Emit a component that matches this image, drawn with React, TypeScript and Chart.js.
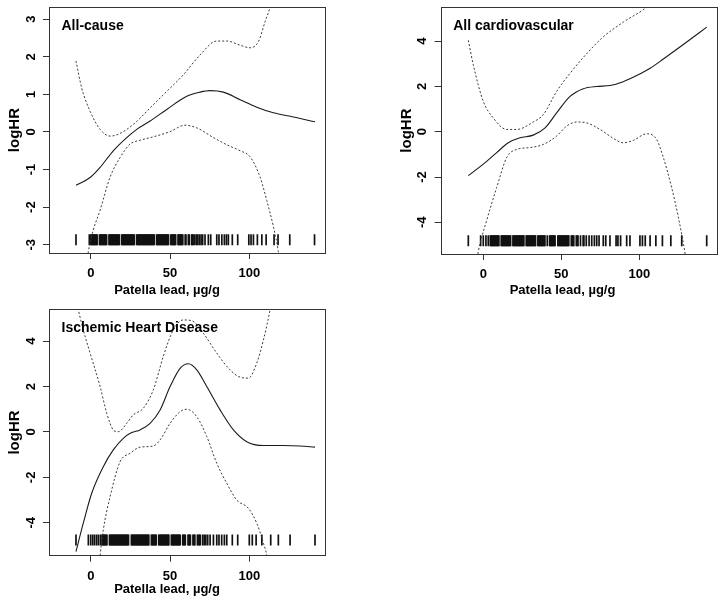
import React, { useEffect, useRef } from "react";
import { Chart, registerables } from "chart.js";

Chart.register(...registerables);

// ---------- data ----------
const xTickValues = [0, 50, 100];
const yTicksAllCause = [-3, -2, -1, 0, 1, 2, 3];
const yTicksWide = [-4, -2, 0, 2, 4];

// All-cause: [lead, logHR]
const allCauseFit: [number, number][] = [
  [-9.3, -1.42], [-0.4, -1.21], [5.9, -0.94], [14.2, -0.5], [22.7, -0.15], [29, 0.07],
  [37.4, 0.29], [47.9, 0.6], [60.5, 0.95], [68.9, 1.06], [75.2, 1.1], [83.6, 1.06],
  [94.1, 0.86], [104.6, 0.66], [115.1, 0.51], [127.7, 0.4], [141.3, 0.27],
];
const allCauseUpper: [number, number][] = [
  [-9.3, 1.89], [-5.7, 1.17], [-0.4, 0.55], [5.9, 0.07], [12.2, -0.11], [17.4, -0.06],
  [26.8, 0.2], [37.4, 0.64], [47.9, 1.08], [58.3, 1.52], [68.9, 2.05], [79.4, 2.42],
  [85.7, 2.42], [94.1, 2.31], [100.4, 2.24], [105.6, 2.4], [109.8, 2.93], [113.4, 3.4], [117, 4.3],
];
const allCauseLower: [number, number][] = [
  [-6, -4.6], [-1.5, -3.18], [1.6, -2.61], [5.9, -2.08], [12.2, -1.2], [18.5, -0.68],
  [24.8, -0.32], [31.1, -0.22], [39.4, -0.13], [50, 0.01], [59.4, 0.18], [66.8, 0.11],
  [77.3, -0.15], [85.7, -0.34], [94.1, -0.5], [100.4, -0.66], [106.7, -1.2], [110.9, -1.82],
  [115.1, -2.52], [118.2, -3.18], [121, -4.0],
];
const allCauseRug = [
  -9.3, -0.9, 0, 0.5, 1, 1.5, 2, 2.5, 3, 3.5, 4, 5.5, 6, 6.5, 7, 7.5, 8, 8.5, 9, 9.5, 10,
  11.5, 12, 12.5, 13, 13.5, 14, 14.5, 15, 15.5, 16, 16.5, 17, 17.5, 18, 19.5, 20, 20.5,
  21, 21.5, 22, 22.5, 23, 23.5, 24, 24.5, 25, 25.5, 26, 26.5, 27, 27.5, 29, 29.5, 30,
  30.5, 31, 31.5, 32, 32.5, 33, 33.5, 34, 34.5, 35, 35.5, 36, 36.5, 37, 37.5, 38, 38.5,
  39, 39.5, 40, 41.5, 42, 42.5, 43, 43.5, 44, 44.5, 45, 45.5, 46, 46.5, 47, 47.5, 48,
  48.5, 49, 50.5, 51, 51.5, 52, 52.5, 53, 53.5, 55, 55.5, 56, 56.5, 57, 57.5, 58, 59.5,
  60, 61.5, 62, 63.5, 64, 64.5, 65.5, 66.5, 67.4, 68.4, 69.5, 70.5, 72, 74.1, 75.6, 79.4,
  80.8, 82.6, 84.2, 85.5, 86.7, 89.2, 92.6, 99.6, 101, 102.5, 105, 107.8, 110.5, 115.5,
  118, 125.4, 141,
];

// All cardiovascular
const cardioFit: [number, number][] = [
  [-9.6, -1.94], [0, -1.43], [8.6, -0.92], [16, -0.49], [23.5, -0.27], [32, -0.15],
  [39.6, 0.17], [47, 0.83], [55.6, 1.56], [64.1, 1.9], [72.7, 2.0], [81.2, 2.04],
  [89.7, 2.21], [98.3, 2.48], [106.9, 2.8], [115.4, 3.21], [128.2, 3.85], [143.2, 4.62],
];
const cardioUpper: [number, number][] = [
  [-9.6, 4.04], [-6.4, 2.95], [0, 1.34], [6.4, 0.61], [15, 0.1], [21.4, 0.1], [32, 0.43],
  [38.5, 0.76], [47, 1.78], [55.6, 2.58], [66.3, 3.45], [76.9, 4.19], [89.7, 4.84],
  [104.7, 5.5], [115, 6.2],
];
const cardioLower: [number, number][] = [
  [-8, -7.5], [-3.2, -5.3], [2.2, -3.91], [8.6, -2.46], [15, -1.14], [21.4, -0.78],
  [29.9, -0.7], [38.5, -0.56], [47, -0.19], [53.4, 0.25], [59.9, 0.43], [66.3, 0.39],
  [74.8, 0.1], [83.3, -0.29], [89.7, -0.49], [96.2, -0.38], [104.7, -0.09], [111.1, -0.34],
  [115.4, -1.14], [120.7, -2.46], [125, -3.77], [129.3, -5.37], [131, -6.2],
];
const cardioRug = [
  -9.6, -1.7, 0, 1.7, 3.2, 4.5, 5, 5.5, 6, 6.5, 7, 7.5, 8, 8.5, 9, 9.5, 10, 11.5, 12,
  12.5, 13, 13.5, 14, 14.5, 15, 15.5, 16, 16.5, 17, 17.5, 19, 19.5, 20, 20.5, 21, 21.5,
  22, 22.5, 23, 23.5, 24, 24.5, 25, 25.5, 26, 27.5, 28, 28.5, 29, 29.5, 30, 30.5, 31,
  31.5, 32, 32.5, 33, 33.5, 35, 35.5, 36, 36.5, 37, 37.5, 38, 38.5, 39, 39.5, 41, 42.5,
  43, 43.5, 44, 44.5, 45, 45.5, 46, 47.8, 48.3, 48.8, 49.3, 49.8, 50.3, 50.8, 51.3, 51.8,
  52.3, 52.8, 53.3, 53.8, 54.3, 54.8, 56.4, 57, 57.5, 58, 59.6, 60.2, 60.7, 62.3, 64,
  64.5, 66, 67.8, 69.5, 71.2, 72.7, 74.2, 76.9, 78.5, 81.2, 85.1, 86.3, 88, 91.9, 94,
  100.4, 102, 103.8, 106.9, 110.6, 114.8, 120.2, 127.2, 143.2,
];

// Ischemic Heart Disease
const ihdFit: [number, number][] = [
  [-9.3, -5.27], [-4.7, -4.02], [0.6, -2.7], [7.9, -1.53], [14.2, -0.79], [20.5, -0.28],
  [25.8, -0.03], [31.1, 0.09], [37.4, 0.38], [43.7, 0.97], [50, 2.0], [56.3, 2.8],
  [61.5, 3.0], [66.8, 2.73], [73.1, 2.0], [81.5, 0.97], [89.9, 0.09], [98.3, -0.43],
  [108.8, -0.6], [121.4, -0.6], [131.9, -0.62], [141.3, -0.67],
];
const ihdUpper: [number, number][] = [
  [-9.3, 5.8], [-4.7, 4.49], [-0.4, 3.47], [5.9, 2.0], [10.1, 0.82], [14.2, 0.09],
  [17.4, 0.01], [22.7, 0.38], [26.8, 0.75], [33.1, 1.04], [39.4, 1.85], [45.7, 3.32],
  [52, 4.49], [58.3, 4.93], [63.6, 4.9], [70.9, 4.35], [79.4, 3.47], [87.8, 2.73],
  [94.1, 2.41], [99.3, 2.37], [104.6, 3.03], [108.8, 4.05], [113, 5.37], [116, 6.5],
];
const ihdLower: [number, number][] = [
  [3.5, -7.2], [5.9, -5.45], [7.9, -4.32], [12.2, -2.85], [18.5, -1.31], [24.8, -0.94],
  [31.1, -0.67], [39.4, -0.62], [43.7, -0.35], [50, 0.38], [56.3, 0.89], [60.5, 1.0],
  [66.8, 0.67], [73.1, -0.2], [79.4, -1.38], [85.7, -2.26], [92, -3.0], [99.3, -3.36],
  [104.6, -4.02], [108.8, -4.9], [110.9, -5.45], [113.5, -7.0],
];
const ihdRug = [
  -9.3, -1.5, 0, 1.3, 2.5, 3.8, 5, 6.3, 7.2, 7.7, 8.2, 8.7, 9.2, 9.7, 10.2, 11.8, 12.3,
  12.8, 13.3, 13.8, 14.3, 14.8, 15.3, 15.8, 16.3, 16.8, 17.3, 17.8, 18.3, 18.8, 19.3,
  19.8, 20.3, 20.8, 21.3, 21.8, 22.3, 22.8, 23.3, 23.8, 25.6, 26.1, 26.6, 27.1, 27.6,
  28.1, 28.6, 29.1, 29.6, 30.1, 30.6, 31.1, 31.6, 32.1, 32.6, 33.1, 33.6, 34.1, 34.6,
  35.1, 35.6, 36.1, 36.6, 38.2, 38.7, 39.2, 39.7, 40.2, 40.7, 41.2, 42.8, 43.3, 43.8,
  44.3, 44.8, 45.3, 45.8, 46.3, 46.8, 47.3, 47.8, 48.3, 48.8, 49.2, 50.8, 51.3, 51.8,
  52.3, 52.8, 53.3, 53.8, 54.3, 54.8, 55.3, 55.8, 56.4, 58, 58.5, 59, 59.6, 61.3, 61.8,
  62.3, 62.8, 64.4, 65, 65.6, 67.2, 67.8, 68.4, 69, 70.5, 71.5, 72.5, 73.7, 75.2, 77.3,
  79.4, 80.8, 82.5, 84.2, 85.7, 89.2, 92.6, 99.9, 101.8, 104.2, 107.8, 113.4, 118.2,
  125.6, 141.3,
];

// ---------- layout / style ----------
const FONT = '"Liberation Sans", Arial, Helvetica, sans-serif';
const X_TITLE = "Patella lead, µg/g";
const Y_TITLE = "logHR";

type PanelCfg = {
  title: string;
  fit: [number, number][];
  upper: [number, number][];
  lower: [number, number][];
  rug: number[];
  rugY: number;
  yTicks: number[];
  xMin: number; xMax: number; yMin: number; yMax: number;
  left: number; top: number; width: number; height: number;
  padLeft: number; padTop: number; padRight: number;
  yAxisW: number; xAxisH: number;
  xTitleX: number; xTitleY: number;
};

const panels: PanelCfg[] = [
  {
    title: "All-cause", fit: allCauseFit, upper: allCauseUpper, lower: allCauseLower,
    rug: allCauseRug, rugY: -2.87, yTicks: yTicksAllCause,
    xMin: -26.3, xMax: 147.6, yMin: -3.22, yMax: 3.32,
    left: 0, top: 0, width: 362, height: 300,
    padLeft: 0, padTop: 5, padRight: 37, yAxisW: 49, xAxisH: 47,
    xTitleX: 167, xTitleY: 290,
  },
  {
    title: "All cardiovascular", fit: cardioFit, upper: cardioUpper, lower: cardioLower,
    rug: cardioRug, rugY: -4.81, yTicks: yTicksWide,
    xMin: -27.3, xMax: 149.6, yMin: -5.4, yMax: 5.5,
    left: 362, top: 0, width: 362, height: 300,
    padLeft: 30, padTop: 5, padRight: 7.3, yAxisW: 48.7, xAxisH: 46,
    xTitleX: 200.5, xTitleY: 290,
  },
  {
    title: "Ischemic Heart Disease", fit: ihdFit, upper: ihdUpper, lower: ihdLower,
    rug: ihdRug, rugY: -4.76, yTicks: yTicksWide,
    xMin: -26.3, xMax: 147.6, yMin: -5.45, yMax: 5.4,
    left: 0, top: 300, width: 362, height: 304,
    padLeft: 0, padTop: 9.3, padRight: 37, yAxisW: 49, xAxisH: 48.3,
    xTitleX: 167, xTitleY: 289,
  },
];

const toPts = (arr: [number, number][]) => arr.map(([x, y]) => ({ x, y }));

function Panel({ cfg }: { cfg: PanelCfg }) {
  const ref = useRef<HTMLCanvasElement | null>(null);
  useEffect(() => {
    if (!ref.current) return;
    const framePlugin = {
      id: "frameAndLabel",
      afterDraw(chart: any) {
        const { ctx, chartArea } = chart;
        ctx.save();
        ctx.strokeStyle = "#333";
        ctx.lineWidth = 1;
        ctx.strokeRect(
          Math.round(chartArea.left) + 0.5,
          Math.round(chartArea.top) + 0.5,
          Math.round(chartArea.right - chartArea.left),
          Math.round(chartArea.bottom - chartArea.top)
        );
        ctx.fillStyle = "#000";
        ctx.font = `bold 14px ${FONT}`;
        ctx.textAlign = "left";
        ctx.textBaseline = "middle";
        ctx.fillText(cfg.title, chartArea.left + 12.5, chartArea.top + 19);
        ctx.font = `bold 13px ${FONT}`;
        ctx.textAlign = "center";
        ctx.fillText(X_TITLE, cfg.xTitleX, cfg.xTitleY);
        ctx.restore();
      },
    };
    const lineBase = {
      showLine: true,
      pointRadius: 0,
      pointHoverRadius: 0,
      fill: false,
      cubicInterpolationMode: "monotone" as const,
    };
    const chart = new Chart(ref.current, {
      type: "scatter",
      data: {
        datasets: [
          { ...lineBase, data: toPts(cfg.upper), borderColor: "#3a3a3a", borderWidth: 1, borderDash: [2, 2] },
          { ...lineBase, data: toPts(cfg.lower), borderColor: "#3a3a3a", borderWidth: 1, borderDash: [2, 2] },
          { ...lineBase, data: toPts(cfg.fit), borderColor: "#1a1a1a", borderWidth: 1.1 },
          {
            data: cfg.rug.map((x) => ({ x, y: cfg.rugY })),
            showLine: false,
            pointStyle: "line",
            rotation: 90,
            pointRadius: 5.5,
            pointHoverRadius: 5.5,
            pointBorderWidth: 1.7,
            pointBorderColor: "#111",
            borderColor: "#111",
          } as any,
        ],
      },
      options: {
        animation: false,
        responsive: false,
        maintainAspectRatio: false,
        events: [],
        layout: { padding: { left: cfg.padLeft, top: cfg.padTop, right: cfg.padRight, bottom: 0 } },
        plugins: { legend: { display: false }, tooltip: { enabled: false } },
        scales: {
          x: {
            type: "linear",
            min: cfg.xMin,
            max: cfg.xMax,
            afterBuildTicks: (s: any) => {
              s.ticks = xTickValues.map((v) => ({ value: v }));
            },
            afterFit: (s: any) => {
              s.height = cfg.xAxisH;
              s.paddingLeft = 0;
              s.paddingRight = 0;
            },
            grid: { display: true, drawOnChartArea: false, drawTicks: true, tickLength: 6, color: "#333", lineWidth: 1 },
            border: { display: false },
            ticks: {
              font: { family: FONT, size: 13, weight: "bold" },
              color: "#000",
              padding: 7,
              maxRotation: 0,
              minRotation: 0,
              autoSkip: false,
            },
          },
          y: {
            type: "linear",
            min: cfg.yMin,
            max: cfg.yMax,
            afterBuildTicks: (s: any) => {
              s.ticks = cfg.yTicks.map((v) => ({ value: v }));
            },
            afterFit: (s: any) => {
              s.width = cfg.yAxisW;
              s.paddingTop = 0;
              s.paddingBottom = 0;
            },
            grid: { display: true, drawOnChartArea: false, drawTicks: true, tickLength: 6, color: "#333", lineWidth: 1 },
            border: { display: false },
            ticks: {
              font: { family: FONT, size: 13, weight: "bold" },
              color: "#000",
              padding: 6,
              minRotation: 90,
              maxRotation: 90,
              crossAlign: "center",
              autoSkip: false,
            },
            title: {
              display: true,
              text: Y_TITLE,
              font: { family: FONT, size: 15, weight: "bold" },
              color: "#000",
              padding: { top: 6, bottom: 0 },
            },
          },
        },
      } as any,
      plugins: [framePlugin],
    });
    return () => chart.destroy();
  }, [cfg]);
  return (
    <canvas
      ref={ref}
      width={cfg.width}
      height={cfg.height}
      style={{ position: "absolute", left: cfg.left, top: cfg.top, width: cfg.width, height: cfg.height, display: "block" }}
    />
  );
}

export default function App() {
  return (
    <div style={{ position: "absolute", left: 0, top: 0, width: 724, height: 604, background: "#fff", overflow: "hidden" }}>
      {panels.map((p) => (
        <Panel key={p.title} cfg={p} />
      ))}
    </div>
  );
}
